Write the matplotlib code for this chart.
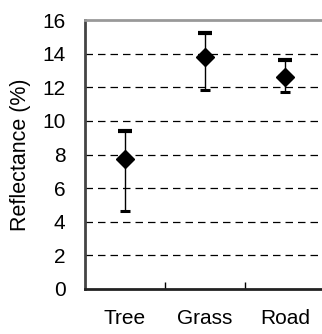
import matplotlib.pyplot as plt

categories = ['Tree', 'Grass', 'Road']
means = [7.71, 13.82, 12.63]
upper = [9.37, 15.23, 13.62]
lower = [4.62, 11.82, 11.72]

fig = plt.figure(figsize=(3.22, 3.34), dpi=100)
ax = fig.add_axes([85 / 322, 45 / 334, 240 / 322, 269 / 334])

xs = [i + 0.5 for i in range(len(categories))]
up_err = [u - m for u, m in zip(upper, means)]
lo_err = [m - l for l, m in zip(lower, means)]
zeros = [0] * len(means)

# upper half with heavy cap, lower half with light cap
ax.errorbar(xs, means, yerr=[zeros, up_err], fmt='none', ecolor='black',
            elinewidth=1, capsize=5, capthick=3, zorder=3)
ax.errorbar(xs, means, yerr=[lo_err, zeros], fmt='none', ecolor='black',
            elinewidth=1, capsize=3.7, capthick=2.2, zorder=3)
ax.plot(xs, means, linestyle='none', marker='D', markersize=9.5,
        color='black', zorder=4)

ax.set_ylim(0, 16)
ax.set_xlim(0, 3)
ax.set_yticks(range(0, 17, 2))
ax.set_xticks([1, 2])
ax.set_xticklabels([])
for x, c in zip(xs, categories):
    ax.text(x, -1.75, c, ha='center', va='center', fontsize=15,
            family='Liberation Sans')

for y in range(2, 16, 2):
    ax.axhline(y, color='black', linestyle=(0, (6, 4)), linewidth=0.9, zorder=1)

ax.tick_params(axis='y', length=0, labelsize=15, pad=14)
ax.tick_params(axis='x', direction='in', length=5, width=1)
for lab in ax.get_yticklabels():
    lab.set_family('Liberation Sans')
ax.set_ylabel('Reflectance (%)', fontsize=15.5, family='Liberation Sans', labelpad=8)

ax.spines['left'].set_linewidth(2)
ax.spines['left'].set_color('#444444')
ax.spines['bottom'].set_linewidth(2)
ax.spines['bottom'].set_color('#222222')
ax.spines['top'].set_linewidth(2)
ax.spines['top'].set_color('#999999')
ax.spines['right'].set_visible(False)

fig.savefig('out.png', dpi=100)
